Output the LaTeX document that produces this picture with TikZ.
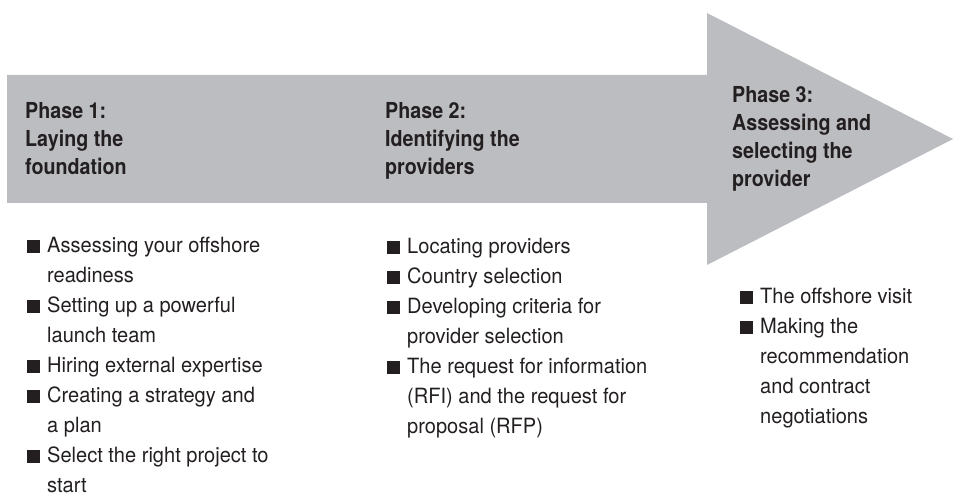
\documentclass[tikz,border=0pt]{standalone}
\usepackage{fontspec}
\setmainfont{TeX Gyre Heros}[FakeStretch=0.955]
\newfontfamily\headfont{TeX Gyre Heros}[FakeStretch=0.895]

\definecolor{arrowgray}{RGB}{188,189,193}
\definecolor{ink}{RGB}{35,31,32}

% bullet square and the indent of a wrapped line
\newcommand{\bul}{\makebox[20pt][l]{\textcolor{ink}{\rule{12.5pt}{12.5pt}}}}
\newcommand{\cont}{\hspace*{20pt}}

\tikzset{
  phase/.style={anchor=north west, inner sep=0pt, align=left, text=ink,
    font=\headfont\fontsize{22}{28}\selectfont\bfseries},
  items/.style={anchor=north west, inner sep=0pt, align=left, text=ink,
    font=\fontsize{21}{30}\selectfont}
}

\begin{document}
\begin{tikzpicture}[x=1pt, y=-1pt]
    \useasboundingbox (0,0) rectangle (956,497);

    % the big arrow
    \fill[arrowgray] (7,75) -- (707,75) -- (707,13) -- (953,139)
        -- (707,265) -- (707,203) -- (7,203) -- cycle;

    % phase titles
    \node[phase] (p1) at (25,102) {Phase 1:\\Laying the\\foundation};
    \node[phase] (p2) at (385,102) {Phase 2:\\Identifying the\\providers};
    \node[phase] (p3) at (732,86) {Phase 3:\\Assessing and\\selecting the\\provider};

    % steps of each phase
    \node[items] (l1) at (27,237) {\bul Assessing your offshore\\ \cont readiness\\
        \bul Setting up a powerful\\ \cont launch team\\
        \bul Hiring external expertise\\
        \bul Creating a strategy and\\ \cont a plan\\
        \bul Select the right project to\\ \cont start};
    \node[items] (l2) at (387,238) {\bul Locating providers\\
        \bul Country selection\\
        \bul Developing criteria for\\ \cont provider selection\\
        \bul The request for information\\ \cont (RFI) and the request for\\ \cont proposal (RFP)};
    \node[items] (l3) at (740,288) {\bul The offshore visit\\
        \bul Making the\\ \cont recommendation\\ \cont and contract\\ \cont negotiations};
\end{tikzpicture}
\end{document}
